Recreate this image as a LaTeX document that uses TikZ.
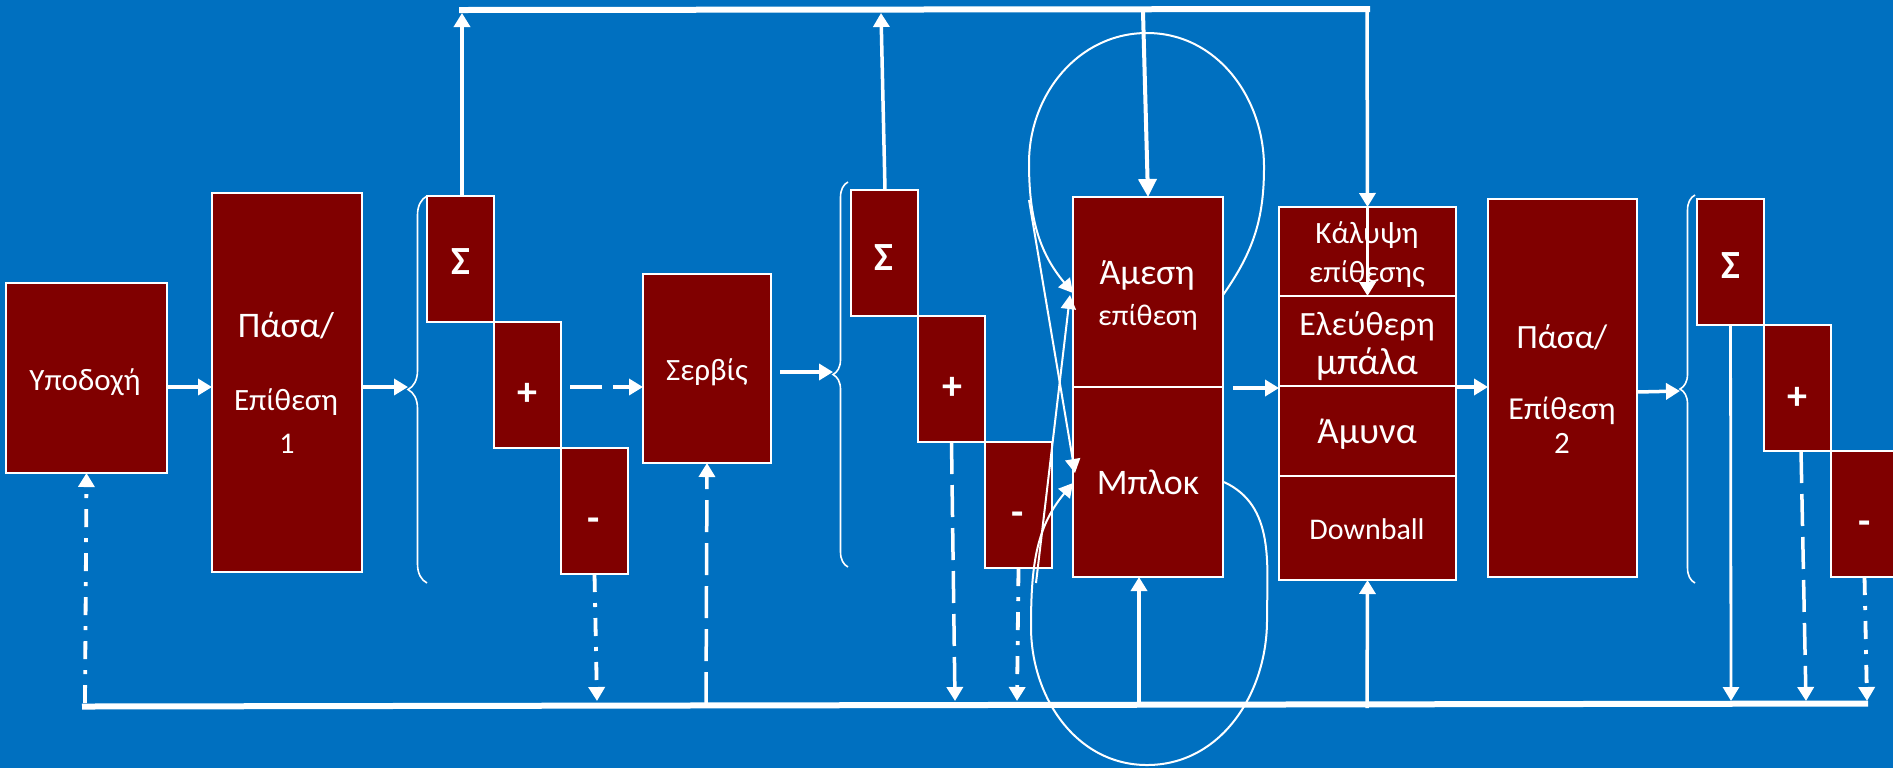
\documentclass[tikz,border=0pt]{standalone}
\usepackage{fontspec}
\setmainfont{Carlito}
\usetikzlibrary{arrows.meta,decorations.pathreplacing,calc}
\definecolor{bgblue}{HTML}{0070C0}
\definecolor{boxred}{HTML}{800000}
\newcommand{\fz}[1]{\fontsize{#1}{#1}\selectfont}
\begin{document}
\begin{tikzpicture}[x=0.5pt, y={(0pt,-0.5pt)},
  rbox/.style={draw=white, line width=0.8pt, fill=boxred, inner sep=0pt, outer sep=0pt},
  txt/.style={text=white, inner sep=0pt, anchor=base},
  sym/.style={txt, font={\fz{20}\bfseries}},
  conn/.style={draw=white, line width=1.75pt, -{Triangle[length=7pt,width=8pt]}},
  dsh/.style={conn, dash pattern=on 16pt off 5.5pt},
  dd/.style={conn, line width=1.9pt, dash pattern=on 9pt off 5.5pt on 2pt off 5.5pt},
  thinarr/.style={draw=white, line width=1pt, -{Triangle[length=7pt,width=7.5pt]}},
  bar/.style={draw=white, line width=3pt},
  brc/.style={draw=white, line width=0.8pt, decorate},
]
\useasboundingbox (0,0) rectangle (1893,768);
\fill[bgblue] (0,0) rectangle (1893,768);

% boxes
\node[rbox, minimum width=80.5pt, minimum height=95pt] (ypo) at (86.5,378) {};
\node[rbox, minimum width=75pt, minimum height=189.5pt] (pasa1) at (287,382.5) {};
\node[rbox, minimum width=33.5pt, minimum height=63pt] (s1) at (460.5,259) {};
\node[rbox, minimum width=33.5pt, minimum height=63pt] (p1) at (527.5,385) {};
\node[rbox, minimum width=33.5pt, minimum height=63pt] (m1) at (594.5,511) {};
\node[rbox, minimum width=64pt, minimum height=94.5pt] (serv) at (707,368.5) {};
\node[rbox, minimum width=33.5pt, minimum height=63pt] (s2) at (884.5,253) {};
\node[rbox, minimum width=33.5pt, minimum height=63pt] (p2) at (951.5,379) {};
\node[rbox, minimum width=33.5pt, minimum height=63pt] (m2) at (1018.5,505) {};
\node[rbox, minimum width=75pt, minimum height=95pt] (ames) at (1148,292) {};
\node[rbox, minimum width=75pt, minimum height=95pt] (blok) at (1148,482) {};
\node[rbox, minimum width=88.5pt, minimum height=44.5pt] (kal) at (1367.5,251.5) {};
\node[rbox, minimum width=88.5pt, minimum height=45pt] (elef) at (1367.5,341) {};
\node[rbox, minimum width=88.5pt, minimum height=45pt] (amyna) at (1367.5,431) {};
\node[rbox, minimum width=88.5pt, minimum height=52pt] (down) at (1367.5,528) {};
\node[rbox, minimum width=74.5pt, minimum height=189pt] (pasa2) at (1562.5,388) {};
\node[rbox, minimum width=33.5pt, minimum height=63pt] (s3) at (1730.5,262) {};
\node[rbox, minimum width=33.5pt, minimum height=63pt] (p3) at (1797.5,388) {};
\node[rbox, minimum width=33.5pt, minimum height=63pt] (m3) at (1864.5,514) {};

% texts
\node[txt, font=\fz{15.5}] (typo) at (85,390) {Υποδοχή};
\node[txt, font=\fz{18}] (tpasa1a) at (286,337) {Πάσα/};
\node[txt, font=\fz{15.5}] (tpasa1b) at (286,410) {Επίθεση};
\node[txt, font=\fz{15}] (tpasa1c) at (287,453) {1};
\node[sym] (ts1) at (461,274) {Σ};
\node[sym] (tp1) at (527,405) {+};
\node[sym] (tm1) at (594,531) {-};
\node[txt, font=\fz{15.5}] (tserv) at (707,380) {Σερβίς};
\node[sym] (ts2) at (884,270) {Σ};
\node[sym] (tp2) at (952,399) {+};
\node[sym] (tm2) at (1018,525) {-};
\node[txt, font=\fz{18}] (tamesa) at (1147,284) {Άμεση};
\node[txt, font=\fz{15}] (tamesb) at (1148,325) {επίθεση};
\node[txt, font=\fz{18}] (tblok) at (1148,494) {Μπλοκ};
\node[txt, font=\fz{15.5}] (tkala) at (1367,243) {Κάλυψη};
\node[txt, font=\fz{15.5}] (tkalb) at (1367,282) {επίθεσης};
\node[txt, font=\fz{17}] (telefa) at (1367,335) {Ελεύθερη};
\node[txt, font=\fz{19}] (telefb) at (1367,374) {μπάλα};
\node[txt, font=\fz{18.5}] (tamyna) at (1367,443) {Άμυνα};
\node[txt, font=\fz{15}] (tdown) at (1367,539) {Downball};
\node[txt, font=\fz{17}] (tpasa2a) at (1562,348) {Πάσα/};
\node[txt, font=\fz{16}] (tpasa2b) at (1562,419) {Επίθεση};
\node[txt, font=\fz{15.5}] (tpasa2c) at (1562,453) {2};
\node[sym] (ts3) at (1731,278) {Σ};
\node[sym] (tp3) at (1797,409) {+};
\node[sym] (tm3) at (1865,534) {-};

% braces
\draw[brc, decoration={brace, amplitude=9.5pt}] (427,583) -- (427,196);
\draw[brc, decoration={brace, amplitude=7.5pt}] (848,567) -- (848,182);
\draw[brc, decoration={brace, amplitude=7.5pt}] (1695,583) -- (1695,195);
\coordinate (br1) at (408,387);
\coordinate (br2) at (833,372);
\coordinate (br3) at (1680,391);

% coordinates on bars
\coordinate (tl) at (459,10);
\coordinate (tr) at (1370,9);
\coordinate (t1) at (462,13);
\coordinate (t2) at (881,13);
\coordinate (t3) at (1143,12);
\coordinate (t4) at (1367,11);
\coordinate (bl) at (82,706.5);
\coordinate (br) at (1868,703.5);
\coordinate (b1) at (85,703);
\coordinate (b2) at (597,701);
\coordinate (b3) at (706,704);
\coordinate (b4) at (955,701);
\coordinate (b5) at (1017,701);
\coordinate (b6) at (1139,704);
\coordinate (b7) at (1367,708);
\coordinate (b8) at (1731,701);
\coordinate (b9) at (1806,701);
\coordinate (b10) at (1867,701);

% bars
\draw[bar] (tl) -- (tr);
\draw[bar] (bl) -- (br);

% horizontal flow
\draw[conn] ($(ypo.east)+(0,9)$) -- ($(pasa1.west)+(0,4.5)$);
\draw[conn] ($(pasa1.east)+(0,4.5)$) -- (br1);
\draw[dsh] ($(p1.east)+(9,2)$) -- ($(serv.west)+(0,18.5)$);
\draw[conn] ($(serv.east)+(9,3.5)$) -- (br2);
\draw[conn] ($(blok.north east)+(10,1)$) -- ($(amyna.north west)+(0,2)$);
\draw[conn] ($(elef.south east)+(0,1)$) -- ($(pasa2.west)+(0,-1)$);
\draw[conn] ($(pasa2.east)+(0,4)$) -- (br3);

% up to top bar
\draw[conn] ($(s1.north)+(1.5,0)$) -- (t1);
\draw[conn] ($(s2.north)+(0.5,0)$) -- (t2);
% down from top bar
\draw[draw=white, line width=2pt, -{Triangle[length=9pt,width=9pt]}] (t3) -- (ames.north);
\draw[conn] (t4) -- (kal.north);
\draw[conn] (kal.north) -- (elef.north);

% bottom connections
\draw[dd] (b1) -- (ypo.south);
\draw[dd] (m1.south) -- (b2);
\draw[dsh] (b3) -- (serv.south);
\draw[dsh] (p2.south) -- (b4);
\draw[dd] (m2.south) -- (b5);
\draw[conn] (b6) -- ($(blok.south)+(-9,0)$);
\draw[conn] (b7) -- (down.south);
\draw[conn, line width=1.4pt] (s3.south) -- (b8);
\draw[dsh] ($(p3.south)+(3.5,0)$) -- (b9);
\draw[dd] (m3.south) -- (b10);

% crossing lines
\coordinate (xa) at (1029,200);
\coordinate (xb) at (1036,583);
\draw[thinarr] (xa) -- ($(blok.west)+(2,-9)$);
\draw[thinarr] (xb) -- ($(ames.west)+(-3,3)$);

% loops
\coordinate (lp1) at (1264,167);
\coordinate (lp2) at (1147,33);
\coordinate (lp3) at (1029,163);
\draw[thinarr] ($(ames.east)+(0,3)$) to[out=55,in=-90] (lp1) to[out=90,in=0] (lp2) to[out=180,in=90] (lp3) to[out=-90,in=130] ($(ames.west)+(0,1)$);
\coordinate (lq1) at (1267,620);
\coordinate (lq2) at (1147,765);
\coordinate (lq3) at (1031,627);
\draw[thinarr] ($(blok.east)+(1,0)$) to[out=-25,in=90] (lq1) to[out=-90,in=0] (lq2) to[out=180,in=-90] (lq3) to[out=90,in=-130] ($(blok.west)+(0,1)$);
\end{tikzpicture}
\end{document}
